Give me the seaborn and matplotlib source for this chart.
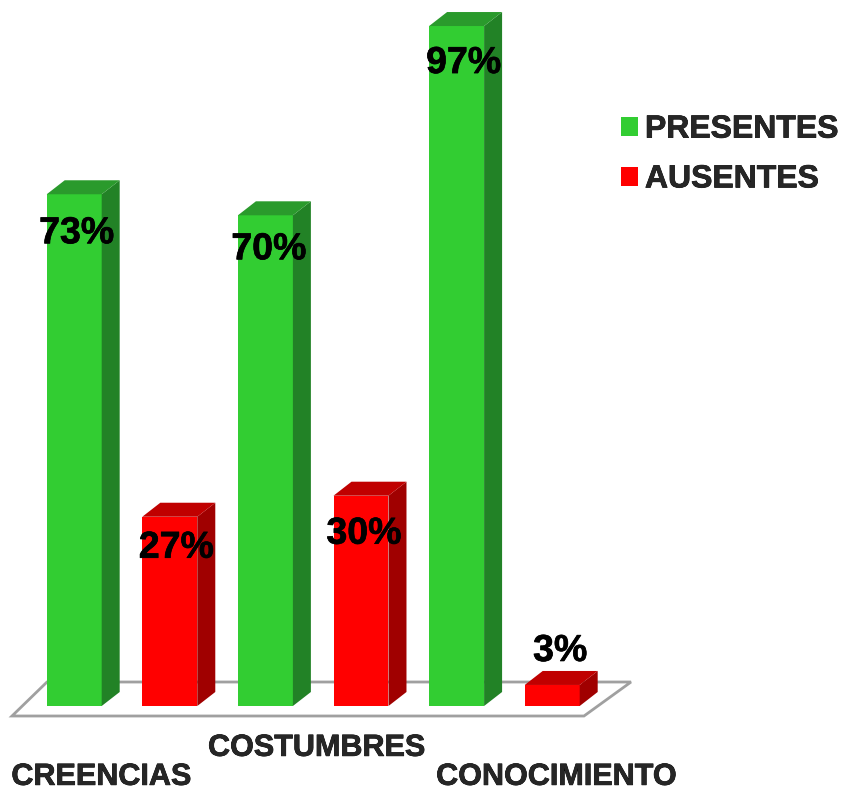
import matplotlib
matplotlib.use("Agg")
import matplotlib.pyplot as plt
from matplotlib.patches import Polygon
from matplotlib.patheffects import withStroke
from matplotlib.transforms import ScaledTranslation
import pandas as pd
import seaborn as sns

categories = ["CREENCIAS", "COSTUMBRES", "CONOCIMIENTO"]
presentes = [73, 70, 97]
ausentes = [27, 30, 3]
series_names = ["PRESENTES", "AUSENTES"]

front_colors = ["#32CD32", "#FF0000"]
side_colors = ["#228226", "#A00000"]
top_colors = ["#2A9A2C", "#C00000"]

W, H = 843, 789
PX_PER_CAT = 191.2
PX_PER_UNIT = 7.01
X0_PX, Y0_PX = 122.0, 706.0
DEPTH_X, DEPTH_Y = 18 / PX_PER_CAT, 14 / PX_PER_UNIT

df = pd.DataFrame({
    "categoria": categories * 2,
    "serie": [series_names[0]] * 3 + [series_names[1]] * 3,
    "valor": presentes + ausentes,
})

sns.set_style("white")
plt.rcParams["font.family"] = ["Liberation Sans", "DejaVu Sans"]
plt.rcParams["font.weight"] = "bold"

fig = plt.figure(figsize=(W / 100, H / 100), dpi=100)
ax = fig.add_axes([0, 0, 1, 1])
sns.barplot(
    data=df, x="categoria", y="valor", hue="serie", order=categories,
    hue_order=series_names, palette=front_colors, saturation=1,
    width=1.0, gap=0.425, linewidth=0, errorbar=None, zorder=3, ax=ax,
)

# Axis limits tie the data units to the pixel grid of the figure
ax.set_xlim(-X0_PX / PX_PER_CAT, (W - X0_PX) / PX_PER_CAT)
ax.set_ylim(-(H - Y0_PX) / PX_PER_UNIT, Y0_PX / PX_PER_UNIT)
ax.set_xlabel("")
ax.set_ylabel("")
ax.set_yticks([])
sns.despine(ax=ax, left=True, bottom=True)
ax.tick_params(axis="x", length=0, labelsize=22)

heavier = [withStroke(linewidth=0.5, foreground="black")]


def to_data(px, py):
    return (px - X0_PX) / PX_PER_CAT, (Y0_PX - py) / PX_PER_UNIT


# Floor plane under the bars
floor = [to_data(12, 716), to_data(47, 682), to_data(631, 682), to_data(584, 716)]
ax.add_patch(Polygon(floor, closed=True, facecolor="white", edgecolor="#A0A0A0",
                     linewidth=2, zorder=1, joinstyle="miter"))

# Side and top faces give each bar its depth
for container, side, top in zip(ax.containers, side_colors, top_colors):
    for bar in container:
        x, w, h = bar.get_x(), bar.get_width(), bar.get_height()
        ax.add_patch(Polygon(
            [(x + w, 0), (x + w + DEPTH_X, DEPTH_Y), (x + w + DEPTH_X, h + DEPTH_Y), (x + w, h)],
            closed=True, facecolor=side, linewidth=0, zorder=3))
        ax.add_patch(Polygon(
            [(x, h), (x + DEPTH_X, h + DEPTH_Y), (x + w + DEPTH_X, h + DEPTH_Y), (x + w, h)],
            closed=True, facecolor=top, linewidth=0, zorder=3))

# Value labels, nudged off each bar top (pixels: right, down)
label_nudges = [[(2.5, 39), (3.5, 34), (7, 37)], [(6.5, 31), (3, 38), (8, -34)]]
for container, values, nudges in zip(ax.containers, [presentes, ausentes], label_nudges):
    for bar, value, (nx, ny) in zip(container, values, nudges):
        ax.annotate(f"{value}%", xy=(bar.get_x() + bar.get_width() / 2, value),
                    xytext=(nx * 0.72, -ny * 0.72), textcoords="offset points",
                    ha="center", va="center", fontsize=27, fontweight="bold",
                    color="black", zorder=5, path_effects=heavier)

# Category names are staggered below the floor
tick_targets = [(101, 772), (316.5, 743), (556, 772)]
ax.set_xticks(range(len(categories)), categories)
for i, (label, (tx, ty)) in enumerate(zip(ax.get_xticklabels(), tick_targets)):
    dx = (tx - (X0_PX + i * PX_PER_CAT)) / 100
    dy = (H - ty) / 100
    label.set_fontweight("bold")
    label.set_verticalalignment("center")
    label.set_path_effects(heavier)
    label.set_transform(label.get_transform() + ScaledTranslation(dx, dy, fig.dpi_scale_trans))

handles, labels = ax.get_legend_handles_labels()
legend = ax.legend(handles, labels, loc="center left",
                   bbox_to_anchor=(621 / W, 1 - 154.5 / H), frameon=False, borderpad=0,
                   borderaxespad=0, handlelength=0.53, handleheight=0.53, handletextpad=0.22,
                   labelspacing=0.62, prop={"family": "Liberation Sans", "weight": "bold", "size": 23})
for text in legend.get_texts():
    text.set_path_effects(heavier)

fig.savefig("out.png", dpi=100)
